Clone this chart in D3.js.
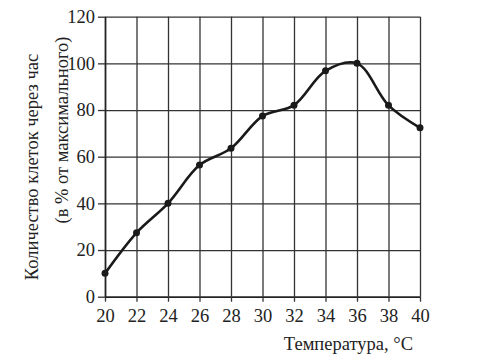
<html>
<head>
<style>
body{margin:0;background:#fff}
#graph text{font-family:'Liberation Serif';font-size:18.5px;fill:#222}
</style>
</head>
<body>
<svg id="graph" width="495" height="361"></svg>
</body>
<script src="https://cdnjs.cloudflare.com/ajax/libs/d3/7.8.5/d3.min.js"></script>
<script>
var temps = [20,22,24,26,28,30,32,34,36,38,40];
var cells = [10,27.4,40,56.4,63.6,77.4,82.1,96.8,100,82,72.4];
var xTicks = [20,22,24,26,28,30,32,34,36,38,40];
var yTicks = [0,20,40,60,80,100,120];

var svg = d3.select('#graph');
var x = d3.scaleLinear().domain([20,40]).range([105,420]);
var y = d3.scaleLinear().domain([0,120]).range([296.7,16.7]);

// grid
svg.append('g')
	.attr('transform','translate(0,'+y(0)+')')
	.call(d3.axisBottom(x).tickValues(xTicks).tickSize(-(y(0)-y(120))).tickSizeOuter(0).tickFormat(''))
	.call(function(g){g.select('.domain').remove();})
	.selectAll('line').attr('stroke','#333').attr('stroke-width',1.3);
svg.append('g')
	.attr('transform','translate('+x(20)+',0)')
	.call(d3.axisLeft(y).tickValues(yTicks).tickSize(-(x(40)-x(20))).tickSizeOuter(0).tickFormat(''))
	.call(function(g){g.select('.domain').remove();})
	.selectAll('line').attr('stroke','#333').attr('stroke-width',1.3);

// axes with small outer ticks and labels
var xa = svg.append('g')
	.attr('transform','translate(0,'+y(0)+')')
	.call(d3.axisBottom(x).tickValues(xTicks).tickSize(5).tickSizeOuter(0).tickPadding(7));
xa.attr('font-family',null).attr('font-size',null);
xa.select('.domain').attr('stroke','#222').attr('stroke-width',1.6);
xa.selectAll('line').attr('stroke','#333').attr('stroke-width',1.3);

var ya = svg.append('g')
	.attr('transform','translate('+x(20)+',0)')
	.call(d3.axisLeft(y).tickValues(yTicks).tickSize(7).tickSizeOuter(0).tickPadding(3));
ya.attr('font-family',null).attr('font-size',null);
ya.select('.domain').attr('stroke','#222').attr('stroke-width',1.6);
ya.selectAll('line').attr('stroke','#333').attr('stroke-width',1.3);

// curve
var pts = temps.map(function(t,i){return [t,cells[i]];});
var line = d3.line()
	.x(function(d){return x(d[0]);})
	.y(function(d){return y(d[1]);})
	.curve(d3.curveCatmullRom.alpha(0.5));
svg.append('path')
	.datum(pts)
	.attr('d',line)
	.attr('fill','none')
	.attr('stroke','#1a1a1a')
	.attr('stroke-width',2.6);
svg.selectAll('circle.pt')
	.data(pts)
	.enter()
	.append('circle')
	.attr('class','pt')
	.attr('cx',function(d){return x(d[0]);})
	.attr('cy',function(d){return y(d[1]);})
	.attr('r',3.5)
	.attr('fill','#1a1a1a');

// titles
function title(tx,ty,rot,anchor,txt){
	svg.append('text')
		.attr('transform','translate('+tx+','+ty+') rotate('+rot+')')
		.attr('text-anchor',anchor)
		.text(txt);
}
title(413,350,0,'end','Температура, °C');
title(38,167,-90,'middle','Количество клеток через час');
title(68,130,-90,'middle','(в % от максимального)');
</script>
</html>
